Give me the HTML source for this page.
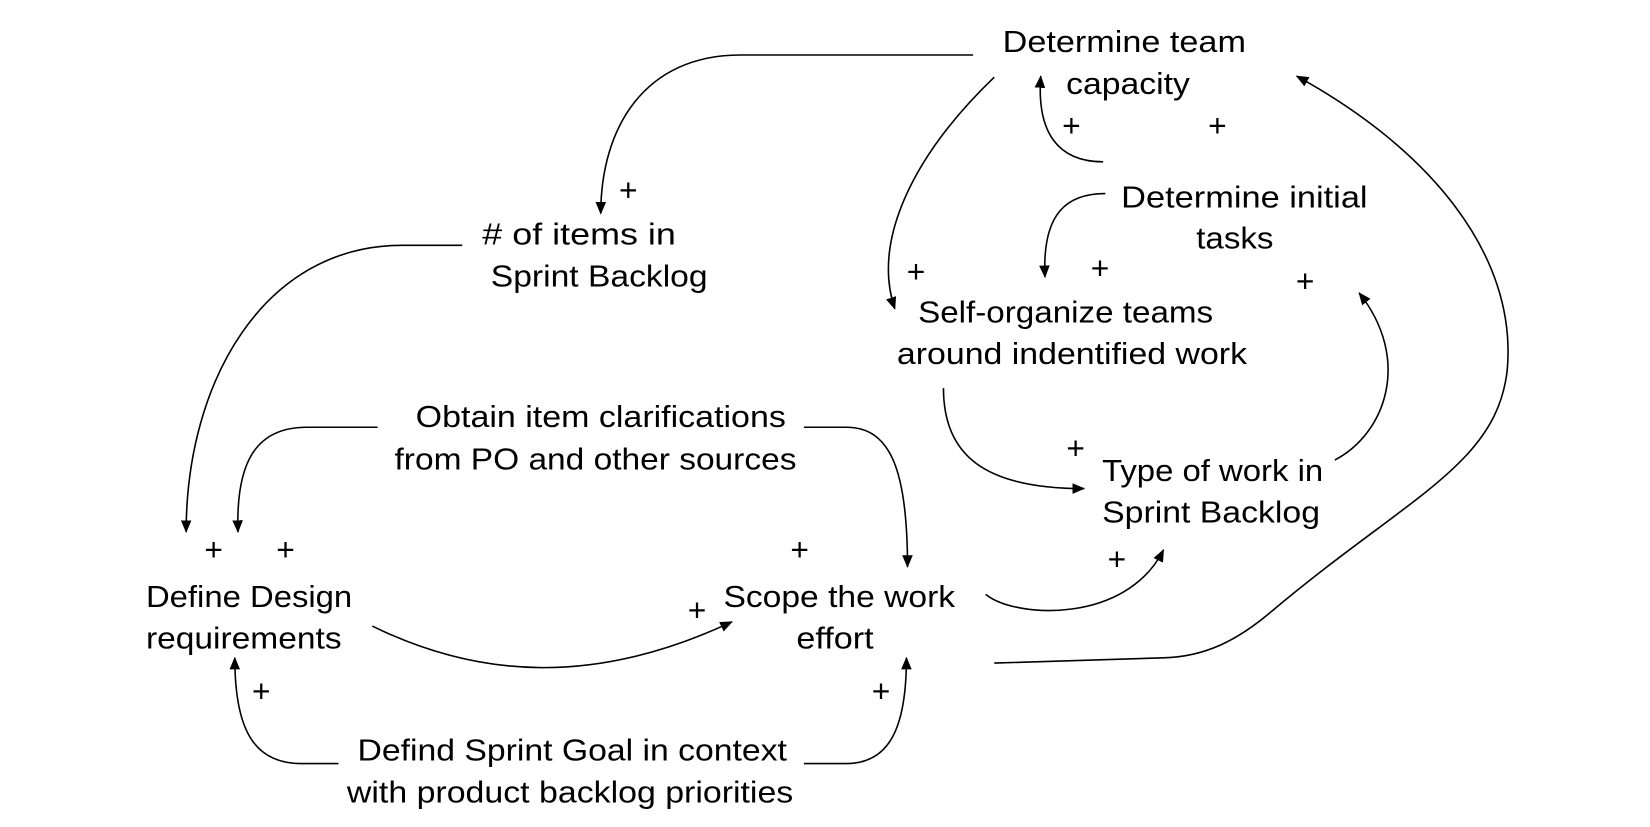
<!DOCTYPE html>
<html><head><meta charset="utf-8"><style>html,body{margin:0;padding:0;background:#fff}svg{display:block}</style></head>
<body>
<svg width="1650" height="827" viewBox="0 0 1560 782" preserveAspectRatio="none" xmlns="http://www.w3.org/2000/svg">
<defs><marker id="a" markerWidth="12" markerHeight="10" refX="11" refY="5" orient="auto" markerUnits="userSpaceOnUse"><path d="M0,0 L12,5 L0,10 Z" fill="#000"/></marker></defs>
<g fill="none" stroke="#000" stroke-width="1.5" marker-end="url(#a)">
<path d="M920,52 L700,52 C610,52 568,120 568,202"/>
<path d="M940,73 C860,150 825,230 846,292"/>
<path d="M1043,153 C1000,153 980,125 984,72"/>
<path d="M1045,183 C1010,183 985,200 988,262"/>
<path d="M437,232 L380,232 C250,232 176,360 176,503"/>
<path d="M357,404 L290,404 C240,404 223,440 225,503"/>
<path d="M760,404 L800,404 C840,404 858,440 858,536"/>
<path d="M352,592 C450,640 560,650 692,588"/>
<path d="M892,367 C892,430 930,462 1025,462"/>
<path d="M1262,435 C1310,410 1335,340 1285,277"/>
<path d="M932,562 C960,585 1065,590 1100,520"/>
<path d="M940,627 L1100,622 C1140,621 1170,605 1200,580 C1330,470 1415,440 1425,350 C1435,240 1350,140 1226,72"/>
<path d="M320,722 L285,722 C240,722 222,690 222,622"/>
<path d="M760,722 L800,722 C840,722 857,690 857,622"/>
</g>
<g font-family="Liberation Sans, sans-serif" font-size="29" fill="#000">
<text x="948" y="49" textLength="230" lengthAdjust="spacingAndGlyphs">Determine team</text>
<text x="1008" y="89" textLength="117" lengthAdjust="spacingAndGlyphs">capacity</text>
<text x="1060" y="196" textLength="233" lengthAdjust="spacingAndGlyphs">Determine initial</text>
<text x="1131" y="235" textLength="73" lengthAdjust="spacingAndGlyphs">tasks</text>
<text x="456" y="231" textLength="183" lengthAdjust="spacingAndGlyphs"># of items in</text>
<text x="464" y="271" textLength="205" lengthAdjust="spacingAndGlyphs">Sprint Backlog</text>
<text x="868" y="305" textLength="279" lengthAdjust="spacingAndGlyphs">Self-organize teams</text>
<text x="848" y="344" textLength="331" lengthAdjust="spacingAndGlyphs">around indentified work</text>
<text x="393" y="404" textLength="350" lengthAdjust="spacingAndGlyphs">Obtain item clarifications</text>
<text x="373" y="444" textLength="380" lengthAdjust="spacingAndGlyphs">from PO and other sources</text>
<text x="1042" y="455" textLength="209" lengthAdjust="spacingAndGlyphs">Type of work in</text>
<text x="1042" y="494" textLength="206" lengthAdjust="spacingAndGlyphs">Sprint Backlog</text>
<text x="138" y="574" textLength="195" lengthAdjust="spacingAndGlyphs">Define Design</text>
<text x="138" y="613" textLength="185" lengthAdjust="spacingAndGlyphs">requirements</text>
<text x="684" y="574" textLength="219" lengthAdjust="spacingAndGlyphs">Scope the work</text>
<text x="753" y="613" textLength="73" lengthAdjust="spacingAndGlyphs">effort</text>
<text x="338" y="719" textLength="406" lengthAdjust="spacingAndGlyphs">Defind Sprint Goal in context</text>
<text x="328" y="759" textLength="422" lengthAdjust="spacingAndGlyphs">with product backlog priorities</text>
</g>
<g font-family="Liberation Sans, sans-serif" font-size="30" fill="#000" text-anchor="middle">
<text x="594" y="190">+</text><text x="1013" y="129">+</text><text x="1151" y="129">+</text>
<text x="866" y="267">+</text><text x="1040" y="264">+</text><text x="1234" y="276">+</text>
<text x="1017" y="434">+</text><text x="202" y="530">+</text><text x="270" y="530">+</text>
<text x="756" y="530">+</text><text x="1056" y="539">+</text><text x="659" y="587">+</text>
<text x="247" y="664">+</text><text x="833" y="664">+</text>
</g>
</svg>
</body></html>
